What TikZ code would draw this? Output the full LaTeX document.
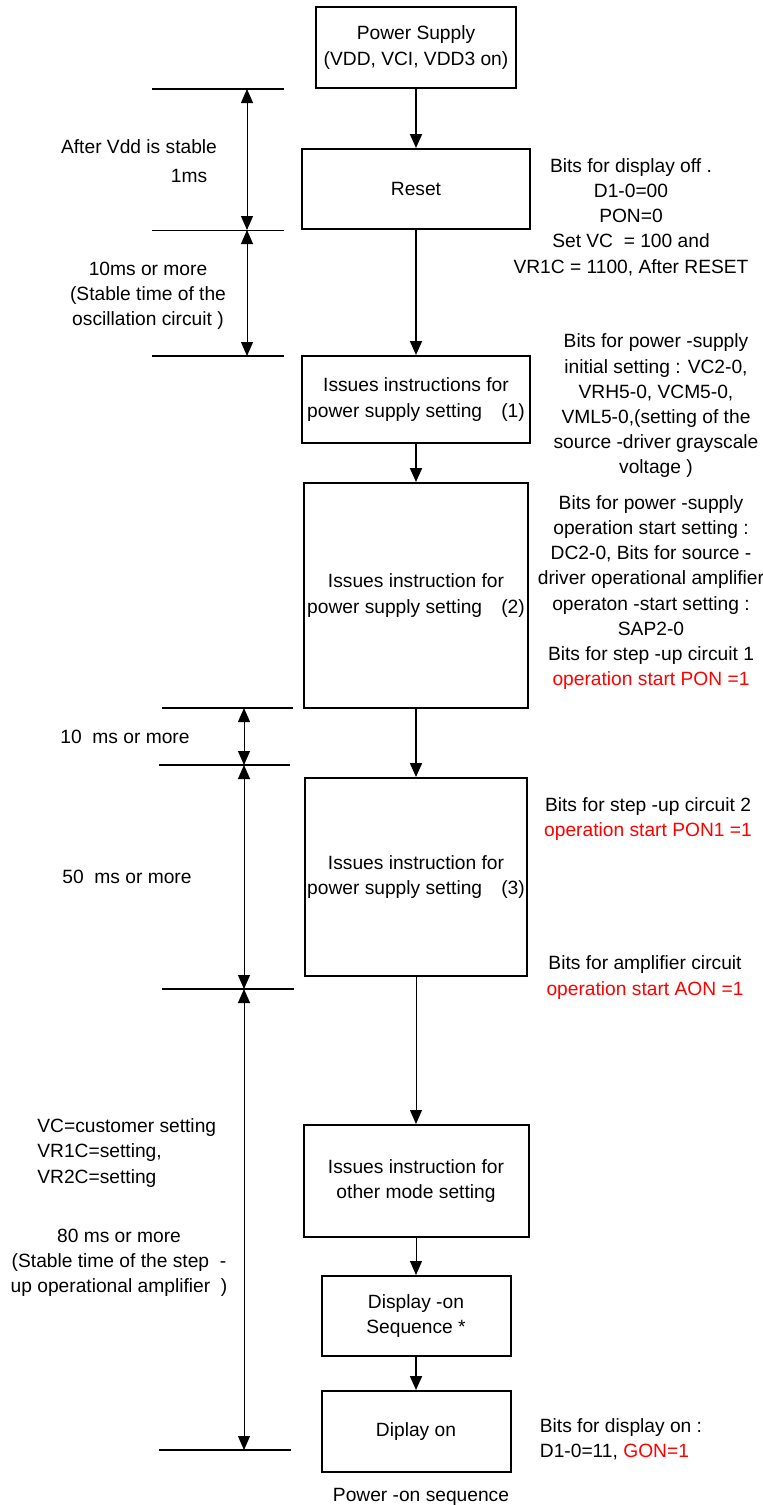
\documentclass[tikz,border=0pt]{standalone}
\usepackage{xcolor}
\usepackage{fontspec}
\setmainfont{Liberation Sans}
\usetikzlibrary{arrows.meta, positioning}

\begin{document}
\begin{tikzpicture}[
    x=0.5pt,
    y=-0.5pt,
    every node/.style={font=\fontsize{9.6}{12.6}\selectfont},
    block/.style={
        rectangle,
        draw,
        line width=1pt,
        align=center,
        inner sep=0pt
    },
    note/.style={
        align=center,
        inner sep=0pt
    },
    line/.style={
        draw,
        -{Triangle[length=7pt,width=6pt]},
        line width=1pt
    },
    thinline/.style={
        line,
        line width=0.5pt
    },
    span/.style={
        draw,
        {Triangle[length=7pt,width=6pt]}-{Triangle[length=7pt,width=6pt]},
        line width=0.5pt
    },
    limit/.style={
        draw,
        line width=1.4pt
    }
]
\useasboundingbox (0,0) rectangle (763,1505);

% Nodes
\node [block, minimum width=100pt, minimum height=40.5pt] (supply) at (416,47.5) {Power Supply\\(VDD, VCI, VDD3 on)};
\node [block, minimum width=114pt, minimum height=40pt] (reset) at (416,189) {Reset};
\node [block, minimum width=114pt, minimum height=43.5pt] (set1) at (416,399.5) {Issues instructions for\\power supply setting\quad(1)};
\node [block, minimum width=112pt, minimum height=112.5pt] (set2) at (416,595.5) {Issues instruction for\\power supply setting\quad(2)};
\node [block, minimum width=111pt, minimum height=99pt] (set3) at (416,877) {Issues instruction for\\power supply setting\quad(3)};
\node [block, minimum width=112.5pt, minimum height=56pt] (mode) at (416,1181) {Issues instruction for\\other mode setting};
\node [block, minimum width=94.5pt, minimum height=40pt] (dispseq) at (416,1316) {Display -on\\Sequence *};
\node [block, minimum width=94.5pt, minimum height=40.5pt] (dispon) at (416,1431.5) {Diplay on};
\node [note] (caption) at (421,1497) {Power -on sequence};

% Notes on the right
\node [note] (offbits) at (631,217) {Bits for display off .\\D1-0=00\\PON=0\\Set VC\ \ = 100 and\\VR1C = 1100, After RESET};
\node [note] (initbits) at (656,406) {Bits for power -supply\\initial setting : VC2-0,\\VRH5-0, VCM5-0,\\VML5-0,(setting of the\\source -driver grayscale\\voltage )};
\node [note] (startbits) at (651,592.5) {Bits for power -supply\\operation start setting :\\DC2-0, Bits for source -\\driver operational amplifier\\operaton -start setting :\\SAP2-0\\Bits for step -up circuit 1\\\textcolor{red}{operation start PON =1}};
\node [note] (step2bits) at (648,819) {Bits for step -up circuit 2\\\textcolor{red}{operation start PON1 =1}};
\node [note] (ampbits) at (645,977.5) {Bits for amplifier circuit\\\textcolor{red}{operation start AON =1}};
\node [note, align=left] (onbits) at (621,1439) {Bits for display on :\\D1-0=11, \textcolor{red}{GON=1}};

% Notes on the left
\node [note] (stable) at (139,147) {After Vdd is stable};
\node [note] (onems) at (189,176) {1ms};
\node [note] (osc) at (148,296) {10ms or more\\(Stable time of the\\oscillation circuit )};
\node [note] (tenms) at (125,737) {10\ \ ms or more};
\node [note] (fiftyms) at (127,877) {50\ \ ms or more};
\node [note, align=left, anchor=west] (vcset) at (37,1153) {VC=customer setting\\VR1C=setting,\\VR2C=setting};
\node [note] (ampwait) at (119,1262.5) {80 ms or more\\(Stable time of the step\ \ -\\up operational amplifier\ \ )};

% Time marks
\coordinate (t0) at (247,89);
\coordinate (t1) at (247,230);
\coordinate (t2) at (247,356);
\coordinate (t3) at (244,708);
\coordinate (t4) at (244,765);
\coordinate (t5) at (244,989);
\coordinate (t6) at (244,1450);

\path [limit] (t0) ++(-95,0) -- ++(132,0);
\path [limit, line width=0.5pt] (t1) ++(-95,0) -- ++(132,0);
\path [limit] (t2) ++(-95,0) -- ++(132,0);
\path [limit] (t3) ++(-82,0) -- ++(131,0);
\path [limit] (t4) ++(-85,0) -- ++(131,0);
\path [limit] (t5) ++(-82,0) -- ++(132,0);
\path [limit] (t6) ++(-85,0) -- ++(132,0);

\path [span] (t0) -- (t1);
\path [span] (t1) -- (t2);
\path [span] (t3) -- (t4);
\path [span] (t4) -- (t5);
\path [span] (t5) -- (t6);

% Paths
\path [line] (supply) -- (reset);
\path [line] (reset) -- (set1);
\path [line] (set1) -- (set2);
\path [line] (set2) -- (set3);
\path [thinline] (set3) -- (mode);
\path [thinline] (mode) -- (dispseq);
\path [line] (dispseq) -- (dispon);

\end{tikzpicture}
\end{document}
